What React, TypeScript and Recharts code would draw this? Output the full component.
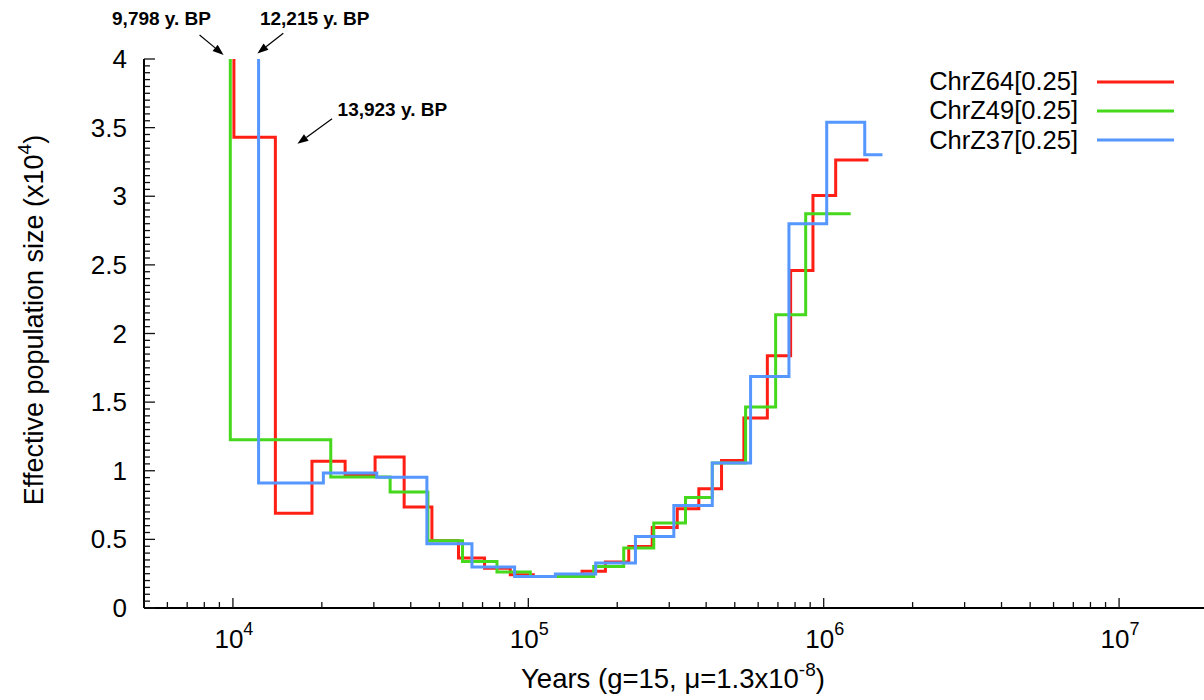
import React from "react";
import {
  LineChart,
  Line,
  XAxis,
  YAxis,
  Legend,
  ReferenceLine,
  ReferenceDot,
} from "recharts";

const FONT = '"Liberation Sans", Arial, Helvetica, sans-serif';

// step series: start of each interval (years) and Ne (x10^4); first value is off-scale (>4)
const chrZ64Years = [7000, 10078, 13923, 18520, 23980, 30290, 37990, 47170, 58030, 71100, 86900, 103970, 152050, 182400, 218800, 262700, 319300, 377800, 451000, 536800, 644500, 772800, 919700, 1098000, 1417600];
const chrZ64Ne = [6.0, 3.43, 0.69, 1.07, 0.97, 1.1, 0.735, 0.49, 0.365, 0.29, 0.243, 0.23, 0.267, 0.335, 0.449, 0.587, 0.723, 0.869, 1.075, 1.384, 1.838, 2.459, 3.005, 3.265, 3.265];

const chrZ49Years = [7000, 9798, 21440, 34060, 45710, 59880, 78320, 101580, 166500, 210400, 265900, 340500, 419600, 544000, 687600, 869000, 1234000];
const chrZ49Ne = [6.0, 1.226, 0.955, 0.845, 0.49, 0.339, 0.262, 0.23, 0.303, 0.437, 0.619, 0.806, 1.056, 1.464, 2.136, 2.872, 2.872];

const chrZ37Years = [7000, 12215, 20240, 30690, 45360, 64450, 89870, 123500, 169100, 230500, 310900, 419600, 565600, 762700, 1023800, 1377000, 1581000];
const chrZ37Ne = [6.0, 0.91, 0.983, 0.953, 0.468, 0.299, 0.23, 0.248, 0.328, 0.521, 0.747, 1.056, 1.687, 2.799, 3.54, 3.302, 3.302];

const seriesNames = ["ChrZ64[0.25]", "ChrZ49[0.25]", "ChrZ37[0.25]"];
const seriesColors = ["#ff1f14", "#46d81c", "#5596ff"];

// annotations (data coordinates)
const noteLabels = ["9,798 y. BP", "12,215 y. BP", "13,923 y. BP"];
const noteLabelYears = [5731, 18920, 34650];
const noteLabelNe = [4.296, 4.296, 3.629];
const arrowFromYears = [7710, 14810, 21660];
const arrowFromNe = [4.175, 4.188, 3.564];
const arrowToYears = [9300, 12100, 16530];
const arrowToNe = [4.03, 4.04, 3.382];

const xDomain = [5000, 2e7];
const xDecades = [1e4, 1e5, 1e6, 1e7];
const yDomain = [0, 4];
const yMajorTicks = [0, 0.5, 1, 1.5, 2, 2.5, 3, 3.5, 4];

const zip = (xs: number[], ys: number[]) => xs.map((x, i) => ({ years: x, ne: ys[i] }));
const seriesData = [
  zip(chrZ64Years, chrZ64Ne),
  zip(chrZ49Years, chrZ49Ne),
  zip(chrZ37Years, chrZ37Ne),
];

// log minor ticks 2..9 per decade, inside the domain
const xTicks = [1e3, ...xDecades]
  .flatMap((d) => [1, 2, 3, 4, 5, 6, 7, 8, 9].map((m) => m * d))
  .filter((v) => v >= xDomain[0] && v <= xDomain[1]);
// minor ticks every 0.05
const yTicks = Array.from({ length: 81 }, (_, i) => Math.round(i * 5) / 100);

const isDecade = (v: number) => xDecades.includes(v);
const isYMajor = (v: number) => yMajorTicks.some((t) => Math.abs(t - v) < 1e-6);

const renderXTick = (p: any) => {
  const v = p.payload.value;
  const major = isDecade(v);
  return (
    <g>
      <line x1={p.x} x2={p.x} y1={p.y} y2={p.y - (major ? 10 : 6)} stroke="#111" strokeWidth={1.3} />
      {major && (
        <text x={p.x + 1} y={p.y + 40} textAnchor="middle" fontSize={26} fontFamily={FONT} fill="#000">
          10
          <tspan dy={-13} fontSize={18}>{Math.round(Math.log10(v))}</tspan>
        </text>
      )}
    </g>
  );
};

const renderTopTick = (p: any) => {
  const major = isDecade(p.payload.value);
  return <line x1={p.x} x2={p.x} y1={p.y} y2={p.y + (major ? 10 : 6)} stroke="#111" strokeWidth={1.3} />;
};

const renderYTick = (p: any) => {
  const v = p.payload.value;
  const major = isYMajor(v);
  return (
    <g>
      <line x1={p.x} x2={p.x + (major ? 11 : 6)} y1={p.y} y2={p.y} stroke="#111" strokeWidth={1.3} />
      {major && (
        <text x={p.x - 17} y={p.y} textAnchor="end" dominantBaseline="central" fontSize={26} fontFamily={FONT} fill="#000">
          {String(v)}
        </text>
      )}
    </g>
  );
};

const XTitle = (p: any) => {
  const vb = p.viewBox;
  return (
    <text x={vb.x + vb.width / 2 - 3} y={vb.y + 80} textAnchor="middle" fontSize={27.5} fontFamily={FONT} fill="#000">
      Years (g=15, μ=1.3x10
      <tspan dy={-12} fontSize={19}>-8</tspan>
      <tspan dy={12}>)</tspan>
    </text>
  );
};

const YTitle = () => {
  const cx = 43;
  const cy = 320;
  return (
    <text x={cx} y={cy} transform={`rotate(-90, ${cx}, ${cy})`} textAnchor="middle" fontSize={27} fontFamily={FONT} fill="#000">
      Effective population size (x10
      <tspan dy={-12} fontSize={19}>4</tspan>
      <tspan dy={12}>)</tspan>
    </text>
  );
};

const Arrow = (p: any) => {
  const { x1, y1, x2, y2 } = p;
  const a = Math.atan2(y2 - y1, x2 - x1);
  const len = 11;
  const w = 4;
  const bx = x2 - len * Math.cos(a);
  const by = y2 - len * Math.sin(a);
  const pts = `${x2},${y2} ${bx + w * Math.sin(a)},${by - w * Math.cos(a)} ${bx - w * Math.sin(a)},${by + w * Math.cos(a)}`;
  return (
    <g>
      <line x1={x1} y1={y1} x2={bx} y2={by} stroke="#000" strokeWidth={1.2} />
      <polygon points={pts} fill="#000" />
    </g>
  );
};

const ROW = 29.4;

const renderLegend = (props: any) => {
  const items = [...(props.payload || [])].sort(
    (a: any, b: any) => seriesNames.indexOf(a.value) - seriesNames.indexOf(b.value)
  );
  return (
    <div style={{ fontFamily: FONT, fontSize: 25.5, color: "#000" }}>
      {items.map((item: any) => (
        <div key={item.value} style={{ display: "flex", alignItems: "center", height: ROW }}>
          <div style={{ width: 200, height: ROW, textAlign: "right", lineHeight: ROW + "px", whiteSpace: "nowrap" }}>
            {item.value}
          </div>
          <svg width={96} height={10}>
            <line x1={19} x2={96} y1={5} y2={5} stroke={item.color} strokeWidth={3} />
          </svg>
        </div>
      ))}
    </div>
  );
};

export default function App() {
  return (
    <div
      style={{
        position: "absolute",
        left: 0,
        top: 0,
        width: 1204,
        height: 700,
        overflow: "hidden",
        background: "#fff",
        fontFamily: FONT,
      }}
    >
      <LineChart width={1230} height={700} margin={{ top: 59, right: 22, bottom: 0, left: 0 }}>
        <XAxis
          dataKey="years"
          type="number"
          scale="log"
          domain={xDomain}
          allowDataOverflow
          ticks={xTicks}
          interval={0}
          tick={renderXTick}
          tickLine={false}
          tickSize={0}
          tickMargin={0}
          height={92}
          axisLine={{ stroke: "#000", strokeWidth: 2 }}
          label={{ content: XTitle }}
        />
        <XAxis
          xAxisId="top"
          orientation="top"
          type="number"
          scale="log"
          domain={xDomain}
          allowDataOverflow
          ticks={xTicks}
          interval={0}
          tick={renderTopTick}
          tickLine={false}
          tickSize={0}
          tickMargin={0}
          height={0}
          axisLine={{ stroke: "#000", strokeWidth: 2 }}
        />
        <YAxis
          type="number"
          domain={yDomain}
          allowDataOverflow
          ticks={yTicks}
          interval={0}
          tick={renderYTick}
          tickLine={false}
          tickSize={0}
          tickMargin={0}
          width={144}
          axisLine={{ stroke: "#000", strokeWidth: 2 }}
          label={{ content: YTitle }}
        />
        <Legend
          layout="vertical"
          align="center"
          verticalAlign="middle"
          content={renderLegend}
          wrapperStyle={{ left: 878, top: 67, width: 320 }}
        />
        {seriesData.map((d, i) => (
          <Line
            key={seriesNames[i]}
            data={d}
            dataKey="ne"
            name={seriesNames[i]}
            type="stepAfter"
            stroke={seriesColors[i]}
            strokeWidth={3}
            dot={false}
            activeDot={false}
            isAnimationActive={false}
          />
        ))}
        {noteLabels.map((t, i) => (
          <ReferenceLine
            key={"arrow" + i}
            ifOverflow="visible"
            segment={[
              { x: arrowFromYears[i], y: arrowFromNe[i] },
              { x: arrowToYears[i], y: arrowToNe[i] },
            ]}
            shape={Arrow}
          />
        ))}
        {noteLabels.map((t, i) => (
          <ReferenceDot
            key={"note" + i}
            x={noteLabelYears[i]}
            y={noteLabelNe[i]}
            r={0}
            ifOverflow="visible"
            shape={(p: any) => (
              <text x={p.cx} y={p.cy} textAnchor="middle" dominantBaseline="central" fontSize={19} fontWeight="bold" fontFamily={FONT} fill="#000">
                {t}
              </text>
            )}
          />
        ))}
      </LineChart>
    </div>
  );
}
